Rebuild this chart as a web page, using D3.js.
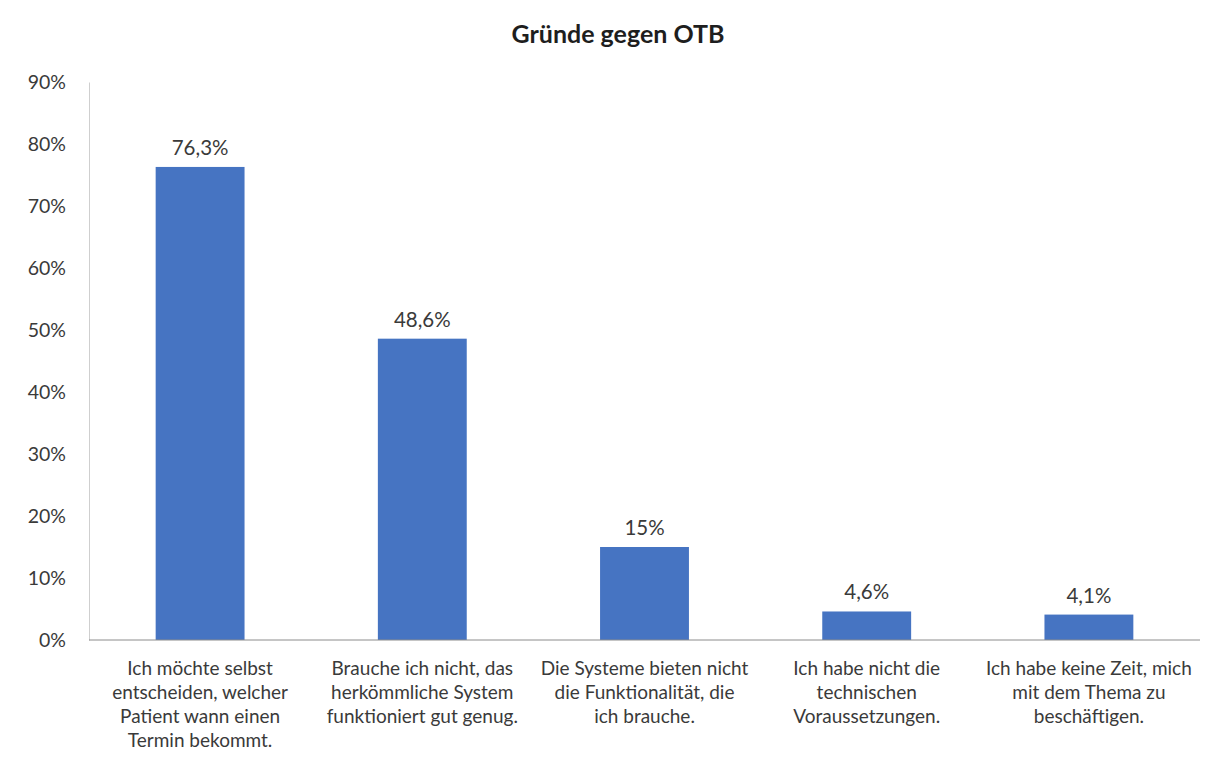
<!DOCTYPE html>
<html>
<head>
<meta charset="utf-8">
<script src="https://cdn.jsdelivr.net/npm/d3@7"></script>
<style>
  body { margin: 0; background: #fff; }
  svg text { font-family: Lato, "Open Sans", sans-serif; fill: #3a3a3a; }
</style>
</head>
<body>
<svg id="chart"></svg>
<script>
var categories = [
  ["Ich möchte selbst", "entscheiden, welcher", "Patient wann einen", "Termin bekommt."],
  ["Brauche ich nicht, das", "herkömmliche System", "funktioniert gut genug."],
  ["Die Systeme bieten nicht", "die Funktionalität, die", "ich brauche."],
  ["Ich habe nicht die", "technischen", "Voraussetzungen."],
  ["Ich habe keine Zeit, mich", "mit dem Thema zu", "beschäftigen."]
];
var values = [76.3, 48.6, 15, 4.6, 4.1];
var valueLabels = ["76,3%", "48,6%", "15%", "4,6%", "4,1%"];
var yTicks = [0, 10, 20, 30, 40, 50, 60, 70, 80, 90];
var title = "Gründe gegen OTB";

var width = 1209, height = 760;
var margin = { left: 89, right: 9, top: 82, bottom: 120 };

var svg = d3.select("#chart").attr("width", width).attr("height", height);

var x = d3.scaleBand()
  .domain(d3.range(values.length))
  .range([margin.left, width - margin.right])
  .paddingInner(0.6)
  .paddingOuter(0.3);

var y = d3.scaleLinear()
  .domain([0, 90])
  .range([height - margin.bottom, margin.top]);

svg.append("text")
  .attr("x", 618)
  .attr("y", 43)
  .attr("text-anchor", "middle")
  .style("font-size", "25px")
  .style("font-weight", "bold")
  .style("fill", "#1e1e1e")
  .text(title);

// y axis
var yAxis = svg.append("g")
  .attr("transform", "translate(" + margin.left + ",0)")
  .call(d3.axisLeft(y).tickValues(yTicks).tickSize(0).tickPadding(23).tickFormat(function(d) { return d + "%"; }));
yAxis.select(".domain").attr("stroke", "#cfcfcf");
yAxis.selectAll("text").style("font-size", "19.5px").style("font-family", "Lato, 'Open Sans', sans-serif").attr("fill", "#3a3a3a");

// bars
svg.selectAll(".bar")
  .data(values)
  .enter().append("rect")
  .attr("class", "bar")
  .attr("x", function(d, i) { return x(i); })
  .attr("y", function(d) { return y(d); })
  .attr("width", x.bandwidth())
  .attr("height", function(d) { return y(0) - y(d); })
  .attr("fill", "#4674c2");

// x axis line
svg.append("line")
  .attr("x1", margin.left).attr("x2", width - margin.right)
  .attr("y1", y(0)).attr("y2", y(0))
  .attr("stroke", "#8c8c8c").attr("stroke-width", 1);

// value labels
svg.selectAll(".vlabel")
  .data(values)
  .enter().append("text")
  .attr("class", "vlabel")
  .attr("x", function(d, i) { return x(i) + x.bandwidth() / 2; })
  .attr("y", function(d) { return y(d) - 12; })
  .attr("text-anchor", "middle")
  .style("font-size", "20.5px")
  .text(function(d, i) { return valueLabels[i]; });

// category labels
var cat = svg.selectAll(".cat")
  .data(categories)
  .enter().append("text")
  .attr("class", "cat")
  .attr("text-anchor", "middle")
  .style("font-size", "19px")
  .attr("transform", function(d, i) { return "translate(" + (x(i) + x.bandwidth() / 2) + "," + (y(0) + 35) + ")"; });

cat.selectAll("tspan")
  .data(function(d) { return d; })
  .enter().append("tspan")
  .attr("x", 0)
  .attr("y", function(d, i) { return i * 24; })
  .text(function(d) { return d; });
</script>
</body>
</html>
